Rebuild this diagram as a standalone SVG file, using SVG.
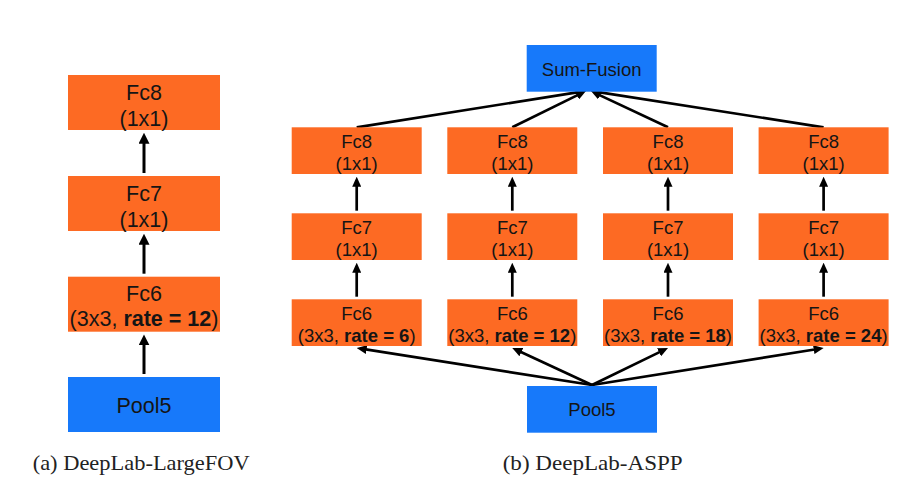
<svg xmlns="http://www.w3.org/2000/svg" width="924" height="498" viewBox="0 0 924 498">
<style>
.o{fill:#FD6A23}
.b{fill:#1779FA}
.tl{font-family:"Liberation Sans",Arial,sans-serif;font-size:21.5px;fill:#151515;text-anchor:middle}
.tr{font-family:"Liberation Sans",Arial,sans-serif;font-size:18.5px;fill:#151515;text-anchor:middle}
.bd{font-weight:bold}
.cap{font-family:"Liberation Serif","Times New Roman",serif;font-size:21px;fill:#222}
.al{stroke:#000;stroke-width:3;fill:none}
.ar{stroke:#000;stroke-width:2.7;fill:none}
</style>
<defs>
<marker id="hL" markerUnits="userSpaceOnUse" markerWidth="11" markerHeight="11" refX="5" refY="5.5" orient="auto"><path d="M0,0 L11,5.5 L0,11 Z" fill="#000"/></marker>
<marker id="hR" markerUnits="userSpaceOnUse" markerWidth="10" markerHeight="9" refX="4" refY="4.5" orient="auto"><path d="M0,0 L10,4.5 L0,9 Z" fill="#000"/></marker>
</defs>
<rect width="924" height="498" fill="#fff"/>

<g id="connectors">
<line class="al" x1="144" y1="173" x2="144" y2="138.7" marker-end="url(#hL)"/>
<line class="al" x1="144" y1="273.7" x2="144" y2="239.7" marker-end="url(#hL)"/>
<line class="al" x1="144" y1="374" x2="144" y2="340.4" marker-end="url(#hL)"/>

<line class="ar" x1="356.7" y1="210.7" x2="356.7" y2="182.7" marker-end="url(#hR)"/>
<line class="ar" x1="512.3" y1="210.7" x2="512.3" y2="182.7" marker-end="url(#hR)"/>
<line class="ar" x1="668" y1="210.7" x2="668" y2="182.7" marker-end="url(#hR)"/>
<line class="ar" x1="823.6" y1="210.7" x2="823.6" y2="182.7" marker-end="url(#hR)"/>
<line class="ar" x1="356.7" y1="296.7" x2="356.7" y2="268.7" marker-end="url(#hR)"/>
<line class="ar" x1="512.3" y1="296.7" x2="512.3" y2="268.7" marker-end="url(#hR)"/>
<line class="ar" x1="668" y1="296.7" x2="668" y2="268.7" marker-end="url(#hR)"/>
<line class="ar" x1="823.6" y1="296.7" x2="823.6" y2="268.7" marker-end="url(#hR)"/>

<line class="ar" x1="356.7" y1="127.3" x2="580.1" y2="91.9" marker-end="url(#hR)"/>
<line class="ar" x1="512.3" y1="127.3" x2="580.6" y2="93.65" marker-end="url(#hR)"/>
<line class="ar" x1="668" y1="127.3" x2="596.4" y2="93.6" marker-end="url(#hR)"/>
<line class="ar" x1="823.6" y1="127.3" x2="596.9" y2="91.9" marker-end="url(#hR)"/>

<line class="ar" x1="592" y1="385" x2="362.6" y2="348.9" marker-end="url(#hR)"/>
<line class="ar" x1="592" y1="385" x2="517.7" y2="350.5" marker-end="url(#hR)"/>
<line class="ar" x1="592" y1="385" x2="662.6" y2="350.6" marker-end="url(#hR)"/>
<line class="ar" x1="592" y1="385" x2="817.7" y2="349" marker-end="url(#hR)"/>
</g>

<g id="a-fc8"><rect class="o" x="68" y="75" width="152" height="55"/><text class="tl" x="144" y="99.5">Fc8</text><text class="tl" x="144" y="125.5">(1x1)</text></g>
<g id="a-fc7"><rect class="o" x="68" y="176" width="152" height="55"/><text class="tl" x="144" y="200.5">Fc7</text><text class="tl" x="144" y="226.5">(1x1)</text></g>
<g id="a-fc6"><rect class="o" x="68" y="276.7" width="152" height="55"/><text class="tl" x="144" y="300.5">Fc6</text><text class="tl" x="144" y="326">(3x3, <tspan class="bd">rate = 12</tspan>)</text></g>
<g id="a-pool5"><rect class="b" x="68" y="377" width="152" height="55"/><text class="tl" x="144" y="413">Pool5</text></g>

<g id="b-sum"><rect class="b" x="526.7" y="45" width="130" height="46.7"/><text class="tr" x="591.7" y="75.5">Sum-Fusion</text></g>

<g id="b-fc8-1"><rect class="o" x="291.7" y="127.3" width="130" height="46.7"/><text class="tr" x="356.7" y="148.3">Fc8</text><text class="tr" x="356.7" y="169.5">(1x1)</text></g>
<g id="b-fc8-2"><rect class="o" x="447.3" y="127.3" width="130" height="46.7"/><text class="tr" x="512.3" y="148.3">Fc8</text><text class="tr" x="512.3" y="169.5">(1x1)</text></g>
<g id="b-fc8-3"><rect class="o" x="603" y="127.3" width="130" height="46.7"/><text class="tr" x="668" y="148.3">Fc8</text><text class="tr" x="668" y="169.5">(1x1)</text></g>
<g id="b-fc8-4"><rect class="o" x="758.6" y="127.3" width="130" height="46.7"/><text class="tr" x="823.6" y="148.3">Fc8</text><text class="tr" x="823.6" y="169.5">(1x1)</text></g>

<g id="b-fc7-1"><rect class="o" x="291.7" y="213.3" width="130" height="46.7"/><text class="tr" x="356.7" y="234.3">Fc7</text><text class="tr" x="356.7" y="255.5">(1x1)</text></g>
<g id="b-fc7-2"><rect class="o" x="447.3" y="213.3" width="130" height="46.7"/><text class="tr" x="512.3" y="234.3">Fc7</text><text class="tr" x="512.3" y="255.5">(1x1)</text></g>
<g id="b-fc7-3"><rect class="o" x="603" y="213.3" width="130" height="46.7"/><text class="tr" x="668" y="234.3">Fc7</text><text class="tr" x="668" y="255.5">(1x1)</text></g>
<g id="b-fc7-4"><rect class="o" x="758.6" y="213.3" width="130" height="46.7"/><text class="tr" x="823.6" y="234.3">Fc7</text><text class="tr" x="823.6" y="255.5">(1x1)</text></g>

<g id="b-fc6-1"><rect class="o" x="291.7" y="299.3" width="130" height="46.7"/><text class="tr" x="356.7" y="320.3">Fc6</text><text class="tr" x="356.7" y="341.5">(3x3, <tspan class="bd">rate = 6</tspan>)</text></g>
<g id="b-fc6-2"><rect class="o" x="447.3" y="299.3" width="130" height="46.7"/><text class="tr" x="512.3" y="320.3">Fc6</text><text class="tr" x="512.3" y="341.5">(3x3, <tspan class="bd">rate = 12</tspan>)</text></g>
<g id="b-fc6-3"><rect class="o" x="603" y="299.3" width="130" height="46.7"/><text class="tr" x="668" y="320.3">Fc6</text><text class="tr" x="668" y="341.5">(3x3, <tspan class="bd">rate = 18</tspan>)</text></g>
<g id="b-fc6-4"><rect class="o" x="758.6" y="299.3" width="130" height="46.7"/><text class="tr" x="823.6" y="320.3">Fc6</text><text class="tr" x="823.6" y="341.5">(3x3, <tspan class="bd">rate = 24</tspan>)</text></g>

<g id="b-pool5"><rect class="b" x="527" y="386" width="130" height="46.7"/><text class="tr" x="592" y="416">Pool5</text></g>

<g id="captions">
<text class="cap" x="32.7" y="470" textLength="217" lengthAdjust="spacingAndGlyphs">(a) DeepLab-LargeFOV</text>
<text class="cap" x="502.7" y="470" textLength="180" lengthAdjust="spacingAndGlyphs">(b) DeepLab-ASPP</text>
</g>
</svg>
